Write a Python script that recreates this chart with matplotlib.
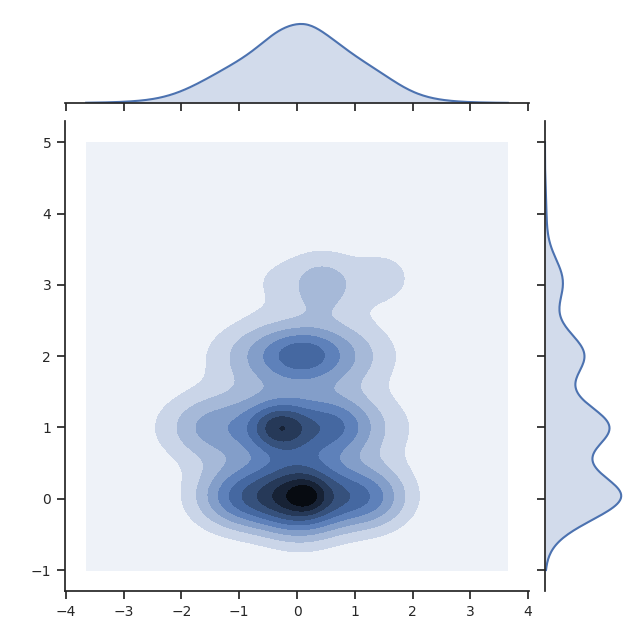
import numpy as np
import matplotlib
matplotlib.use("Agg")
import matplotlib.pyplot as plt
import colorsys
from matplotlib.colors import LinearSegmentedColormap

# ---- data: density bumps (centre, spread, peak height) ----
comp_x   = [0.08, -0.90, 1.15, 0.17, -0.20, -0.30, 0.70, -1.65, 0.08, 0.09, 0.50, 0.42, 1.55, 0.30]
comp_y   = [0.02, 0.02, 0.02, 0.04, 1.00, 1.00, 1.03, 1.00, 2.02, 2.02, 3.05, 2.95, 3.15, 4.00]
comp_sx  = [0.50, 0.60, 0.55, 0.20, 1.20, 0.33, 0.45, 0.45, 0.90, 0.35, 1.05, 0.30, 0.30, 0.60]
comp_sy  = [0.38, 0.32, 0.32, 0.15, 0.38, 0.22, 0.27, 0.30, 0.33, 0.20, 0.34, 0.28, 0.25, 0.30]
comp_amp = [0.66, 0.50, 0.45, 0.12, 0.45, 0.30, 0.17, 0.10, 0.48, 0.08, 0.16, 0.11, 0.05, 0.025]

grid_x = [-3.65, 3.65]
grid_y = [-1.0, 5.0]
x_ticks = [-4, -3, -2, -1, 0, 1, 2, 3, 4]
y_ticks = [-1, 0, 1, 2, 3, 4, 5]
n_levels = 10
base_color = "#4C72B0"

# ---- style ----
plt.rcParams.update({
    "font.family": ["DejaVu Sans"],
    "font.size": 10,
    "axes.edgecolor": "#262626",
    "axes.linewidth": 1.25,
    "xtick.color": "#262626",
    "ytick.color": "#262626",
    "xtick.major.size": 6,
    "ytick.major.size": 6,
    "xtick.major.width": 1.25,
    "ytick.major.width": 1.25,
    "xtick.labelsize": 10,
    "ytick.labelsize": 10,
    "xtick.major.pad": 4,
    "ytick.major.pad": 4,
})

# ---- density on grid ----
xs = np.linspace(grid_x[0], grid_x[1], 240)
ys = np.linspace(grid_y[0], grid_y[1], 240)
X, Y = np.meshgrid(xs, ys)
Z = np.zeros_like(X)
mx = np.zeros_like(xs)
my = np.zeros_like(ys)
for cx, cy, sx, sy, a in zip(comp_x, comp_y, comp_sx, comp_sy, comp_amp):
    Z += a * np.exp(-0.5 * (((X - cx) / sx) ** 2 + ((Y - cy) / sy) ** 2))
    mx += a * np.sqrt(2 * np.pi) * sy * np.exp(-0.5 * ((xs - cx) / sx) ** 2)
    my += a * np.sqrt(2 * np.pi) * sx * np.exp(-0.5 * ((ys - cy) / sy) ** 2)

# colormap: same hue, lightness from 1 to 0
rgb = matplotlib.colors.to_rgb(base_color)
h, l, s = colorsys.rgb_to_hls(*rgb)
cols = [colorsys.hls_to_rgb(h, li, s) for li in np.linspace(1, 0, 12)]
cmap = LinearSegmentedColormap.from_list("blend", cols)

W, H = 636, 632
fig = plt.figure(figsize=(W / 100, H / 100), dpi=100)

left_px, right_px = 65.1, 528.9
top_px, bottom_px = 120.9, 591.4
ax = fig.add_axes([left_px / W, 1 - bottom_px / H, (right_px - left_px) / W, (bottom_px - top_px) / H])
ax_top = fig.add_axes([left_px / W, 1 - 103 / H, (right_px - left_px) / W, 83 / H], sharex=ax)
ax_right = fig.add_axes([545 / W, 1 - bottom_px / H, 80 / W, (bottom_px - top_px) / H], sharey=ax)

levels = np.linspace(0, Z.max(), n_levels + 1)
ax.contourf(X, Y, Z, levels=levels, cmap=cmap)

ax.set_xlim(-4.015, 4.015)
ax.set_ylim(-1.3, 5.3)
ax.set_xticks(x_ticks)
ax.set_yticks(y_ticks)
for sp in ["top", "right"]:
    ax.spines[sp].set_visible(False)

# top marginal
ax_top.fill_between(xs, 0, mx, color=base_color, alpha=0.25, lw=0)
ax_top.plot(xs, mx, color=base_color, lw=1.5)
ax_top.set_ylim(0, mx.max() * 1.05)
for sp in ["top", "right", "left"]:
    ax_top.spines[sp].set_visible(False)
ax_top.tick_params(axis="x", labelbottom=False)
ax_top.set_yticks([])

# right marginal
ax_right.fill_betweenx(ys, 0, my, color=base_color, alpha=0.25, lw=0)
ax_right.plot(my, ys, color=base_color, lw=1.5)
ax_right.set_xlim(0, my.max() * 1.05)
for sp in ["top", "right", "bottom"]:
    ax_right.spines[sp].set_visible(False)
ax_right.tick_params(axis="y", labelleft=False)
ax_right.set_xticks([])

fig.savefig("out.png", dpi=100)
